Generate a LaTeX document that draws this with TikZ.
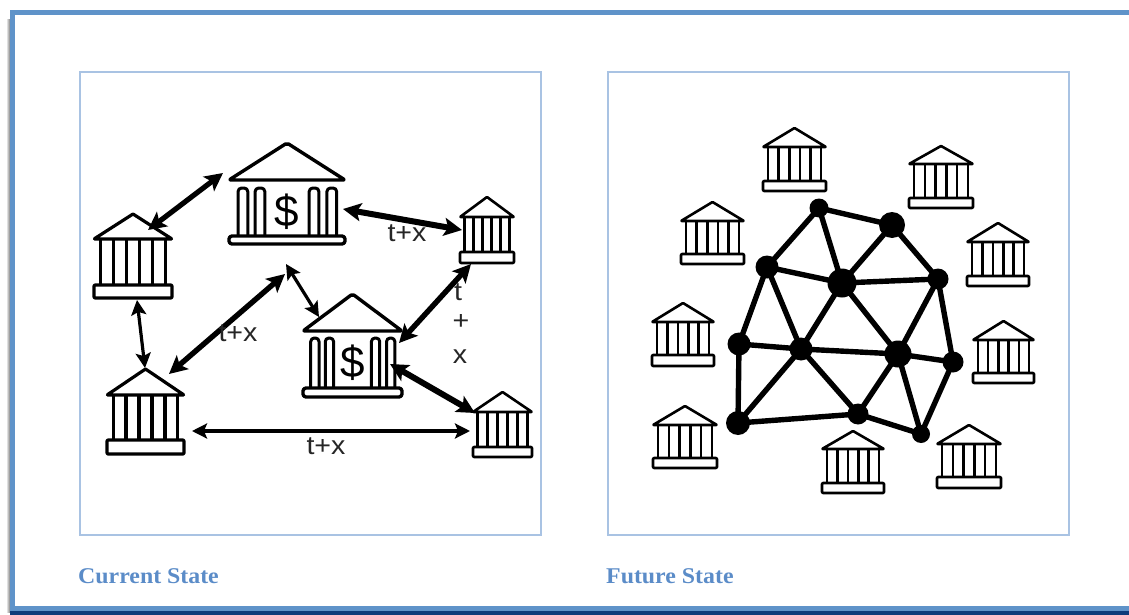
\documentclass[tikz,border=0pt]{standalone}
\usepackage{fontspec}
\setmainfont{Liberation Sans}
\newfontfamily\lblfont[FakeStretch=1.1]{Liberation Sans}
\newfontfamily\capfont[FakeStretch=1.06]{Liberation Serif}
\usetikzlibrary{arrows.meta,calc}
\definecolor{framebl}{HTML}{5F93C9}
\definecolor{panelbl}{HTML}{A9C3E3}
\definecolor{capbl}{HTML}{5B8CC8}
\definecolor{navy}{HTML}{0F3B7A}
\tikzset{
  panelbox/.style={draw=panelbl,line width=2pt},
  framebar/.style={fill=framebl,draw=none},
  lbl/.style={inner sep=0pt,text=black!85,font=\lblfont\fontsize{26}{28}\selectfont},
  captext/.style={anchor=west,inner sep=0pt,text=capbl,font=\capfont\bfseries\fontsize{22.5}{24}\selectfont},
  dbl/.style={{Stealth[length=18pt,width=18pt,inset=4pt]}-{Stealth[length=18pt,width=18pt,inset=4pt]},line width=#1},
  dbl/.default=3.5pt,
  dblthin/.style={{Stealth[length=15pt,width=15pt,inset=3pt]}-{Stealth[length=15pt,width=15pt,inset=3pt]},line width=3.2pt},
  hub/.style={circle,fill=black,inner sep=0pt,minimum size=#1},
  mesh/.style={line width=5.4pt},
  iconline/.style={line width=#1,line join=round},
}
% name, x0, x1, apex y, roof y, base top, base bottom, line width
\newcommand{\plainbank}[8]{%
  \node (#1) at ({(#2+#3)/2},{(#4+#7)/2}) [inner sep=0pt,minimum width=#3-#2,minimum height=#7-#4] {};
  \draw[iconline=#8,rounded corners=0.6pt] (#2,#5) -- ({(#2+#3)/2},#4) -- (#3,#5) -- cycle;
  \foreach \f in {0.08,0.248,0.416,0.584,0.752,0.92}
    \draw[iconline=#8] ({#2+\f*(#3-#2)},#5) -- ({#2+\f*(#3-#2)},#6);
  \draw[iconline=#8,rounded corners=1pt] (#2,#6) rectangle (#3,#7);
}
% name, x0, x1, apex y, roof y, pill top, base top, base bottom
\newcommand{\dollarbank}[8]{%
  \node (#1) at ({(#2+#3)/2},{(#4+#8)/2}) [inner sep=0pt,minimum width=#3-#2,minimum height=#8-#4] {};
  \draw[iconline=3.4pt,rounded corners=2pt] (#2,#5) -- ({(#2+#3)/2},#4) -- (#3,#5) -- cycle;
  \foreach \f in {0.12,0.267,0.733,0.886}
    \draw[iconline=3pt,rounded corners=3.6pt] ({#2+(\f-0.042)*(#3-#2)},#7) |- ({#2+(\f+0.042)*(#3-#2)},#6) -- ({#2+(\f+0.042)*(#3-#2)},#7);
  \draw[iconline=3.4pt,rounded corners=3pt] (#2,#7) rectangle (#3,#8);
  \node[inner sep=0pt,font=\fontsize{44}{48}\selectfont] at ({(#2+#3)/2},{(#6+#7)/2}) {\$};
}
\begin{document}
\begin{tikzpicture}[x=1pt,y=-1pt]
\useasboundingbox (0,0) rectangle (1129,615);
% outer frame
\shade[left color=white,right color=black!50,draw=none] (6,20) rectangle (10,612);
\fill[navy] (10,611) rectangle (1129,615);
\fill[framebar] (10,10) rectangle (1129,15);
\fill[framebar] (10,10) rectangle (15,611);
\fill[framebar] (10,606) rectangle (1129,611);
% panels
\draw[panelbox] (80,72) rectangle (541,535);
\draw[panelbox] (608,72) rectangle (1069,535);
\node[captext] (capL) at (78,576) {Current State};
\node[captext] (capR) at (606,576) {Future State};
% left panel banks
\plainbank{bA}{94}{172}{214}{239}{285}{298}{3.2pt}
\plainbank{bB}{107}{184}{369}{395}{440}{454}{3.2pt}
\plainbank{bC}{460}{514}{197}{217}{252}{263}{2.6pt}
\plainbank{bD}{473}{532}{392}{412}{447}{457}{2.6pt}
\dollarbank{bE}{229}{345}{143}{180}{188}{236}{244}
\dollarbank{bF}{303}{402}{294}{331}{338}{388}{397}
% arrow ends
\coordinate (a1) at (223,173); \coordinate (a2) at (148,230);
\coordinate (b1) at (343,209); \coordinate (b2) at (462,230);
\coordinate (c1) at (137,300); \coordinate (c2) at (145,368);
\coordinate (d1) at (285,274); \coordinate (d2) at (169,374);
\coordinate (e1) at (286,264); \coordinate (e2) at (319,317);
\coordinate (f1) at (471,264); \coordinate (f2) at (399,343);
\coordinate (g1) at (390,364); \coordinate (g2) at (475,413);
\coordinate (h1) at (192,431); \coordinate (h2) at (470,431);
\draw[dbl=5.2pt] (a1) -- (a2);
\draw[dbl=6pt] (b1) -- (b2);
\draw[dblthin] (c1) -- (c2);
\draw[dbl=5.4pt] (d1) -- (d2);
\draw[dblthin] (e1) -- (e2);
\draw[dbl=5.4pt] (f1) -- (f2);
\draw[dbl=6pt] (g1) -- (g2);
\draw[dblthin] (h1) -- (h2);
% labels
\node[lbl] (t1) at (407,233) {t+x};
\node[lbl] (t2) at (238,333) {t+x};
\node[lbl] (t3) at (326,446) {t+x};
\node[lbl] (t4) at (458,292) {t};
\node[lbl] (t5) at (461,322) {+};
\node[lbl] (t6) at (460,357) {x};
% right panel banks
\plainbank{r1}{763}{826}{128}{147}{181}{191}{2.6pt}
\plainbank{r2}{909}{973}{146}{164}{198}{208}{2.6pt}
\plainbank{r3}{681}{744}{202}{221}{254}{264}{2.6pt}
\plainbank{r4}{967}{1029}{223}{242}{276}{286}{2.6pt}
\plainbank{r5}{652}{714}{303}{322}{355}{366}{2.6pt}
\plainbank{r6}{973}{1034}{321}{340}{373}{383}{2.6pt}
\plainbank{r7}{653}{717}{406}{425}{458}{468}{2.6pt}
\plainbank{r8}{822}{884}{431}{449}{483}{493}{2.6pt}
\plainbank{r9}{937}{1001}{425}{444}{477}{488}{2.6pt}
% mesh
\node[hub=19pt] (na) at (819,208) {};
\node[hub=26pt] (nb) at (892,225) {};
\node[hub=23pt] (nc) at (767,267) {};
\node[hub=29pt] (nd) at (842,283) {};
\node[hub=21pt] (ne) at (938,279) {};
\node[hub=23pt] (nf) at (739,344) {};
\node[hub=23pt] (ng) at (801,349) {};
\node[hub=27pt] (nh) at (898,354) {};
\node[hub=21pt] (ni) at (953,362) {};
\node[hub=24pt] (nj) at (738,423) {};
\node[hub=21pt] (nk) at (858,414) {};
\node[hub=18pt] (nl) at (921,434) {};
\foreach \u/\v in {na/nb,na/nc,na/nd,nb/nd,nb/ne,nc/nd,nc/nf,nc/ng,nd/ne,nd/ng,nd/nh,ne/nh,ne/ni,nf/ng,nf/nj,ng/nh,ng/nj,ng/nk,nh/ni,nh/nk,nh/nl,ni/nl,nj/nk,nk/nl}
  \draw[mesh] (\u.center) -- (\v.center);
\end{tikzpicture}
\end{document}
